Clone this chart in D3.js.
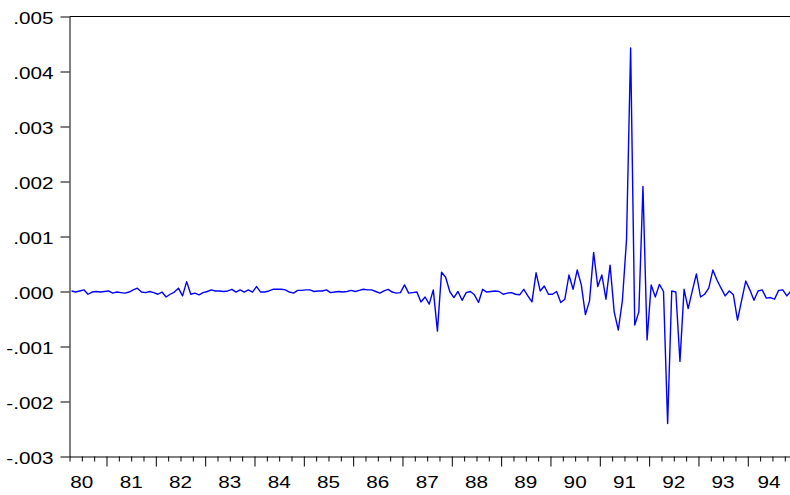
<!DOCTYPE html>
<html>
<head>
<meta charset="utf-8">
<script src="https://cdn.jsdelivr.net/npm/d3@7"></script>
<style>
body { margin: 0; background: #fff; }
svg { display: block; }
.lbl { font-family: "Liberation Sans", Arial, sans-serif; font-size: 16.3px; fill: #000;
       transform-box: fill-box; transform: scaleX(1.27); }
.ylab { transform-origin: right center; }
.xlab { transform-origin: center center; }
</style>
</head>
<body>
<svg id="chart" width="790" height="495"></svg>
<script>
// monthly series, first observation 1980M04, values in units of 1e-5
var startYear = 1980, startMonth = 4;
var resid = [
	1, -1, 1, 3, -5, -1, 0, -1, 0,                    // 1980 (apr-dec)
	1, -3, -1, -2, -3, -1, 3, 6, -1, -2, 0, -2,       // 1981
	-5, -1, -10, -5, -1, 6, -8, 18, -5, -3, -6, -2,   // 1982
	0, 3, 1, 1, 0, 1, 4, -1, 3, -1, 3, -1,            // 1983
	9, -1, -1, 1, 4, 4, 4, 3, -1, -3, 2, 2,           // 1984
	3, 3, 0, 1, 1, 3, -2, -1, 0, -1, 0, 2,            // 1985
	0, 2, 4, 3, 3, 0, -3, 1, 4, -1, -3, -2,           // 1986
	12, -3, -2, -1, -19, -10, -23, 3, -72, 35, 26, 0, // 1987
	-11, 0, -16, -2, 0, -6, -20, 4, -1, 0, 1, 0,      // 1988
	-5, -3, -2, -5, -6, 4, -8, -19, 34, 1, 10, -5,    // 1989
	-5, 0, -20, -14, 30, 4, 39, 12, -42, -17, 71, 9,  // 1990
	30, -14, 48, -37, -70, -16, 94, 443, -61, -37, 191, -88, // 1991
	12, -10, 13, 0, -240, 1, -1, -127, 4, -31, 1, 32, // 1992
	-10, -5, 6, 39, 21, 6, -8, 1, -6, -52, -16, 19,   // 1993
	3, -16, 1, 3, -12, -11, -14, 2, 3, -8, 1, 3       // 1994
];
var yearLabels = ['80','81','82','83','84','85','86','87','88','89','90','91','92','93','94'];
var yTickValues = [0.005, 0.004, 0.003, 0.002, 0.001, 0, -0.001, -0.002, -0.003];
var yTickLabels = ['.005', '.004', '.003', '.002', '.001', '.000', '-.001', '-.002', '-.003'];

var svg = d3.select('#chart');
var W = 790;
var plotLeft = 69.5, plotTop = 16.5, plotBottom = 456.5, yearPx = 49.33;

// escalas: anos decimais no eixo x
var xScale = d3.scaleLinear()
	.domain([1980.25, 1995])
	.range([plotLeft, plotLeft + 14.75 * yearPx]);
var yScale = d3.scaleLinear()
	.domain([-0.003, 0.005])
	.range([plotBottom, plotTop]);

var data = resid.map(function (v, i) {
	return { t: startYear + (startMonth - 1 + i + 0.5) / 12, v: v * 1e-5 };
});

// borda superior
svg.append('line')
	.attr('x1', xScale.range()[0]).attr('x2', xScale.range()[1])
	.attr('y1', plotTop).attr('y2', plotTop)
	.attr('stroke', '#000').attr('stroke-width', 1);

// eixo x: ticks trimestrais e anuais
var quarters = d3.range(0, 59).map(function (k) { return 1980.25 + k * 0.25; })
	.filter(function (q) { return q % 1 !== 0; });
var yearTicks = d3.range(1981, 1995);

svg.append('g')
	.attr('transform', 'translate(0,' + plotBottom + ')')
	.style('color', '#000')
	.call(d3.axisBottom(xScale).tickValues(quarters).tickSize(5).tickSizeOuter(0).tickFormat(''));

var gMaj = svg.append('g')
	.attr('transform', 'translate(0,' + plotBottom + ')')
	.style('color', '#000')
	.call(d3.axisBottom(xScale).tickValues(yearTicks).tickSize(10).tickSizeOuter(0).tickFormat(''));
gMaj.select('.domain').remove();

// rotulos dos anos no meio de cada ano (ultimo ano: meio da parte visivel)
var visEnd = xScale.invert(W);
svg.append('g').selectAll('text')
	.data(yearLabels)
	.join('text')
	.attr('class', 'lbl xlab')
	.attr('x', function (d, i) {
		var y0 = startYear + i;
		var mid = (y0 + 1 > visEnd) ? (y0 + visEnd) / 2 : y0 + 0.5;
		return xScale(mid);
	})
	.attr('y', 488)
	.attr('text-anchor', 'middle')
	.text(function (d) { return d; });

// eixo y
var gy = svg.append('g')
	.attr('transform', 'translate(' + plotLeft + ',0)')
	.style('color', '#000')
	.call(d3.axisLeft(yScale).tickValues(yTickValues).tickSize(9).tickPadding(7).tickSizeOuter(0)
		.tickFormat(function (d, i) { return yTickLabels[i]; }));
gy.attr('font-size', null).attr('font-family', null);
gy.selectAll('.tick text')
	.attr('class', 'lbl ylab')
	.attr('dy', '0.4em');

// serie
svg.append('path')
	.datum(data)
	.attr('fill', 'none')
	.attr('stroke', '#0000ff')
	.attr('stroke-width', 1.4)
	.attr('stroke-linejoin', 'round')
	.attr('d', d3.line()
		.x(function (d) { return xScale(d.t); })
		.y(function (d) { return yScale(d.v); }));
</script>
</body>
</html>
